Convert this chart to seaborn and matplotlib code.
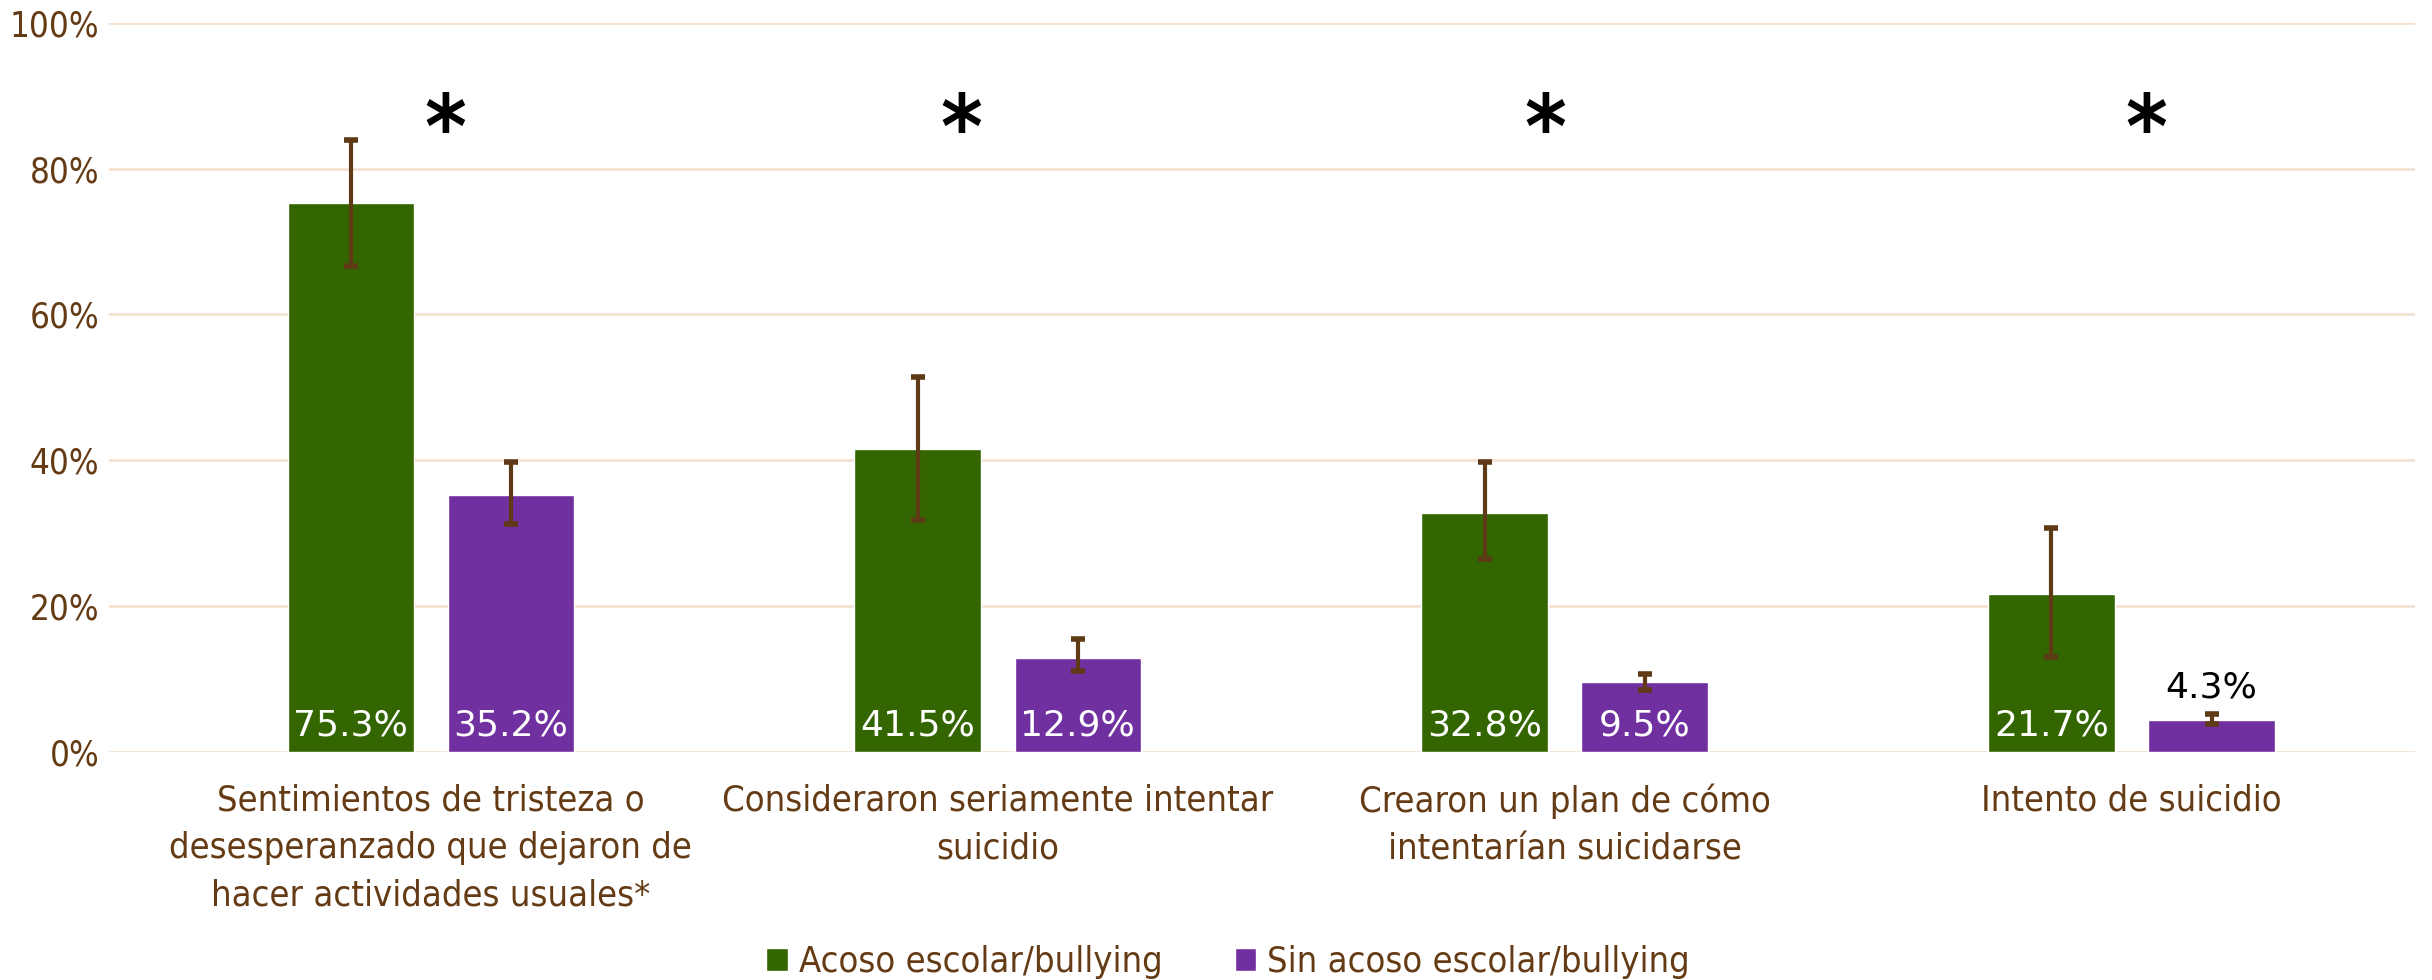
# Bullying vs. mental health indicators - grouped bars with error bars
import numpy as np
import pandas as pd
import matplotlib
matplotlib.use('Agg')
import matplotlib.pyplot as plt
import seaborn as sns

# data
categorias = ['Sentimientos de tristeza o\ndesesperanzado que dejaron de\nhacer actividades usuales*',
              'Consideraron seriamente intentar\nsuicidio',
              'Crearon un plan de cómo\nintentarían suicidarse',
              'Intento de suicidio']
grupos = ['Acoso escolar/bullying', 'Sin acoso escolar/bullying']
acoso = [75.3, 41.5, 32.8, 21.7]
sin_acoso = [35.2, 12.9, 9.5, 4.3]
acoso_low = [66.7, 31.8, 26.4, 13.0]
acoso_high = [84.0, 51.4, 39.7, 30.7]
sin_low = [31.3, 11.1, 8.5, 3.8]
sin_high = [39.7, 15.4, 10.7, 5.2]
yticks = [0, 20, 40, 60, 80, 100]

df = pd.DataFrame({
    'categoria': categorias * 2,
    'grupo': [grupos[0]] * 4 + [grupos[1]] * 4,
    'valor': acoso + sin_acoso,
})

brown = '#643B14'
grid_col = '#F2DFCF'
colors = {grupos[0]: '#336600', grupos[1]: '#7030A0'}

sns.set_style('white')
plt.rcParams['font.family'] = ['DejaVu Sans']
plt.rcParams['font.stretch'] = 'condensed'

fig = plt.figure(figsize=(24.32, 9.8), dpi=100)
ax = fig.add_axes([0.0448, 0.233, 0.9482, 0.7435])

sns.barplot(data=df, x='categoria', y='valor', hue='grupo', palette=colors,
            order=categorias, hue_order=grupos, width=0.565, gap=0.21,
            errorbar=None, saturation=1, ax=ax, legend=True, zorder=3)

lows = [acoso_low, sin_low]
highs = [acoso_high, sin_high]
bar_groups = list(ax.containers)
for k, cont in enumerate(bar_groups):
    for i, bar in enumerate(cont.patches):
        xc = bar.get_x() + bar.get_width() / 2
        v = bar.get_height()
        ax.errorbar(xc, v, yerr=[[v - lows[k][i]], [highs[k][i] - v]],
                    fmt='none', ecolor='#5E3A17', elinewidth=3,
                    capsize=5, capthick=4, zorder=4)
        if v > 8:
            ax.text(xc, 1.3, f'{v:.1f}%', ha='center', va='bottom',
                    color='white', fontsize=26, fontstretch='normal', zorder=5)
        else:
            ax.text(xc, highs[k][i] + 1.3, f'{v:.1f}%', ha='center',
                    va='bottom', color='black', fontsize=26,
                    fontstretch='normal', zorder=5)

# significance asterisks
star_dx = [0.025, -0.065, -0.035, 0.026]
for i in range(len(categorias)):
    ax.text(i + star_dx[i], 84.8, '*', ha='center', va='center',
            fontsize=64, fontweight='bold', color='black')

ax.set_ylim(0, 100)
ax.set_xlim(-0.568, 3.5)
ax.set_yticks(yticks)
ax.set_yticklabels([f'{t}%' for t in yticks])
ax.yaxis.grid(True, color=grid_col, linewidth=1.8, zorder=0)
ax.set_axisbelow(True)
ax.tick_params(axis='y', colors=brown, labelsize=25, length=0, pad=7)
ax.tick_params(axis='x', colors=brown, labelsize=26, length=0, pad=23)
for lbl in ax.get_xticklabels():
    lbl.set_linespacing(1.5)
ax.set_xlabel('')
ax.set_ylabel('')
sns.despine(ax=ax, left=True, bottom=True)

leg = ax.legend(loc='center', bbox_to_anchor=(0.505, 0.018),
                bbox_transform=fig.transFigure, ncol=2, frameon=False,
                fontsize=26, handlelength=0.6, handleheight=0.6,
                handletextpad=0.3, columnspacing=2.0)
for t in leg.get_texts():
    t.set_color(brown)

fig.savefig('out.png', dpi=100)
